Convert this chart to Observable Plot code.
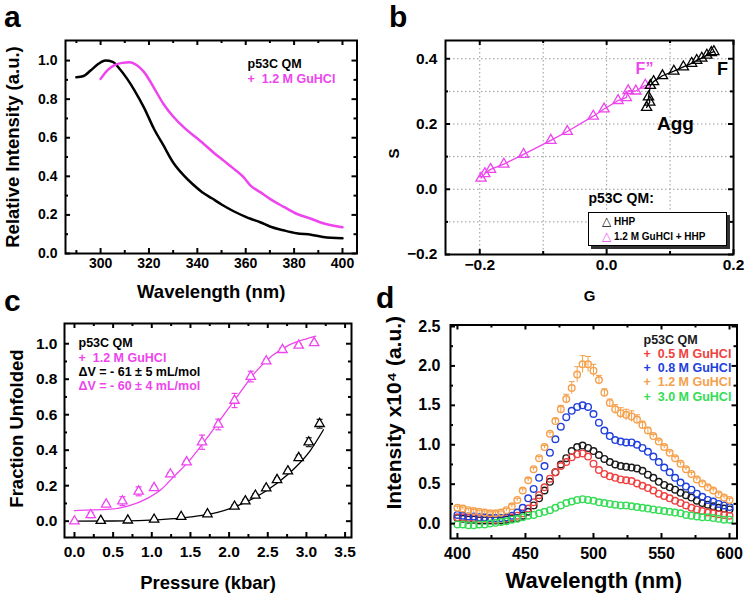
<!DOCTYPE html>
<html><head><meta charset="utf-8">
<script src="https://cdn.jsdelivr.net/npm/d3@7"></script>
<script src="https://cdn.jsdelivr.net/npm/@observablehq/plot@0.6"></script>
<style>
body{margin:0;background:#fff;}
#root{position:relative;width:745px;height:597px;overflow:hidden;background:#fff;font-family:"Liberation Sans",Arial,Helvetica,sans-serif;}
.pane{position:absolute;}
.letter{position:absolute;font-size:30px;line-height:33px;font-weight:bold;color:#000;}
.lgbox{position:absolute;border:1px solid #000;box-shadow:3px 3px 0 #333;background:#fff;font-size:10px;font-weight:bold;}
.lgrow{position:absolute;white-space:nowrap;line-height:12px;}
</style></head><body><div id="root"></div>
<script>
// ---------- Panel a : emission spectra ----------
const aQmWl = [290, 293, 296, 299, 302, 305, 308, 311, 314, 318, 322, 326, 330, 334, 338, 342, 346, 350, 355, 360, 362, 366, 370, 376, 381, 387, 392, 400];
const aQmI  = [0.913, 0.92, 0.95, 0.982, 1.0, 0.993, 0.955, 0.905, 0.846, 0.755, 0.648, 0.56, 0.472, 0.41, 0.36, 0.318, 0.286, 0.254, 0.219, 0.19, 0.18, 0.162, 0.14, 0.119, 0.105, 0.097, 0.086, 0.079];
const aGuWl = [300, 303, 306, 309, 312, 315, 318, 322, 326, 330, 335, 339, 343, 347, 351, 355, 359, 362, 366, 370, 376, 381, 387, 392, 400];
const aGuI  = [0.905, 0.952, 0.978, 0.988, 0.991, 0.976, 0.94, 0.86, 0.775, 0.71, 0.647, 0.606, 0.564, 0.52, 0.48, 0.44, 0.397, 0.352, 0.318, 0.283, 0.24, 0.206, 0.18, 0.157, 0.136];

// ---------- Panel b : G / S phasor ----------
const bHhpG = [0.169, 0.165, 0.158, 0.150, 0.142, 0.134, 0.121, 0.106, 0.088, 0.074, 0.069, 0.066, 0.068, 0.063];
const bHhpS = [0.422, 0.419, 0.411, 0.402, 0.395, 0.386, 0.375, 0.362, 0.348, 0.330, 0.318, 0.283, 0.267, 0.251];
const bGuG  = [0.061, 0.046, 0.034, 0.031, 0.018, -0.004, -0.021, -0.062, -0.088, -0.131, -0.162, -0.183, -0.192, -0.198];
const bGuS  = [0.319, 0.301, 0.302, 0.281, 0.272, 0.246, 0.224, 0.177, 0.150, 0.107, 0.077, 0.061, 0.048, 0.034];

// ---------- Panel c : pressure unfolding ----------
const cGuP   = [0, 0.21, 0.41, 0.62, 0.83, 1.03, 1.24, 1.45, 1.65, 1.86, 2.07, 2.28, 2.48, 2.69, 2.90, 3.10];
const cGuF   = [0.0, 0.035, 0.095, 0.113, 0.168, 0.188, 0.265, 0.333, 0.445, 0.545, 0.68, 0.815, 0.902, 0.966, 0.99, 1.005];
const cGuErr = [0.005, 0.015, 0.01, 0.025, 0.025, 0.01, 0.01, 0.01, 0.04, 0.03, 0.04, 0.03, 0.01, 0.01, 0.01, 0.005];
const cQmP   = [0.34, 0.69, 1.03, 1.38, 1.72, 2.07, 2.21, 2.34, 2.48, 2.62, 2.76, 2.90, 3.03, 3.17];
const cQmF   = [0.003, 0.005, 0.01, 0.025, 0.04, 0.083, 0.113, 0.145, 0.186, 0.233, 0.282, 0.357, 0.445, 0.549];
const cQmErr = [0.005, 0.005, 0.005, 0.005, 0.005, 0.01, 0.01, 0.01, 0.01, 0.01, 0.01, 0.015, 0.025, 0.025];
const cGuFitP = [0, 0.43, 0.69, 0.95, 1.12, 1.30, 1.47, 1.69, 1.91, 2.13, 2.34, 2.56, 2.78, 3.00, 3.12];
const cGuFitF = [0.06, 0.066, 0.085, 0.13, 0.178, 0.258, 0.333, 0.455, 0.586, 0.718, 0.84, 0.934, 0.994, 1.028, 1.043];
const cQmFitP = [0, 0.5, 1.11, 1.54, 1.85, 2.10, 2.36, 2.62, 2.84, 3.05, 3.22];
const cQmFitF = [0, 0.001, 0.009, 0.026, 0.05, 0.085, 0.139, 0.214, 0.295, 0.398, 0.515];

// ---------- Panel d : spectra vs GuHCl ----------
const dWl = [400,404,408,412,416,420,424,428,432,436,440,444,448,452,456,460,464,468,472,476,480,484,488,492,496,500,504,508,512,516,520,524,528,532,536,540,544,548,552,556,560,564,568,572,576,580,584,588,592,596,600];
const dQm  = [0.07,0.06,0.05,0.05,0.04,0.04,0.04,0.04,0.04,0.05,0.06,0.07,0.10,0.15,0.23,0.32,0.42,0.53,0.65,0.75,0.83,0.92,0.97,0.99,0.96,0.92,0.87,0.82,0.78,0.75,0.73,0.72,0.71,0.70,0.67,0.62,0.58,0.53,0.49,0.46,0.43,0.39,0.36,0.33,0.29,0.26,0.24,0.22,0.20,0.19,0.18];
const d05  = [0.08,0.08,0.07,0.07,0.06,0.06,0.06,0.05,0.06,0.07,0.08,0.10,0.13,0.19,0.27,0.36,0.46,0.57,0.65,0.73,0.78,0.84,0.88,0.89,0.85,0.76,0.68,0.63,0.60,0.58,0.56,0.55,0.54,0.51,0.48,0.45,0.42,0.38,0.35,0.32,0.29,0.26,0.23,0.20,0.18,0.16,0.14,0.13,0.12,0.11,0.10];
const d08  = [0.11,0.10,0.09,0.09,0.08,0.08,0.07,0.07,0.07,0.08,0.10,0.14,0.20,0.32,0.44,0.58,0.73,0.90,1.07,1.23,1.35,1.43,1.48,1.50,1.48,1.39,1.28,1.18,1.11,1.06,1.04,1.03,1.03,1.00,0.96,0.91,0.85,0.78,0.71,0.65,0.58,0.52,0.47,0.43,0.38,0.34,0.30,0.28,0.25,0.23,0.21];
const d12  = [0.20,0.19,0.17,0.16,0.15,0.14,0.13,0.13,0.14,0.17,0.22,0.30,0.42,0.55,0.69,0.83,0.97,1.14,1.30,1.45,1.58,1.72,1.89,2.02,2.02,1.94,1.82,1.66,1.53,1.45,1.40,1.38,1.36,1.32,1.25,1.18,1.11,1.04,0.97,0.90,0.83,0.76,0.69,0.63,0.56,0.51,0.46,0.42,0.37,0.33,0.30];
const d12Err = [0.02,0.02,0.02,0.02,0.02,0.02,0.02,0.02,0.02,0.02,0.02,0.02,0.02,0.02,0.02,0.02,0.02,0.02,0.03,0.05,0.06,0.08,0.10,0.11,0.10,0.08,0.06,0.05,0.05,0.06,0.07,0.07,0.07,0.06,0.05,0.04,0.02,0.02,0.02,0.02,0.02,0.02,0.02,0.02,0.02,0.02,0.02,0.02,0.02,0.02,0.02];
const d30  = [-0.01,-0.01,-0.02,-0.02,-0.01,-0.01,0.00,0.01,0.02,0.03,0.05,0.06,0.08,0.10,0.11,0.13,0.15,0.17,0.20,0.23,0.26,0.28,0.30,0.31,0.30,0.29,0.27,0.26,0.25,0.24,0.23,0.23,0.22,0.21,0.20,0.19,0.18,0.17,0.16,0.15,0.14,0.13,0.11,0.10,0.09,0.08,0.08,0.07,0.06,0.05,0.05];
const dNames  = ["p53C QM", "+\u00a0\u00a00.5 M GuHCl", "+\u00a0\u00a00.8 M GuHCl", "+\u00a0\u00a01.2 M GuHCl", "+\u00a0\u00a03.0 M GuHCl"];
const dColors = ["#1a1a1a", "#f04040", "#2040dd", "#f5a04c", "#33dd55"];
const dValues = [dQm, d05, d08, d12, d30];

// ---------- helpers ----------
const FONT = "'Liberation Sans', Arial, Helvetica, sans-serif";
const MAG = "#ee44ee";
const root = document.getElementById("root");
const zip = (xs, ys, extra) => xs.map((x, i) => ({x, y: ys[i], e: extra ? extra[i] : 0}));
const capSymbol = {draw(ctx) { ctx.moveTo(-3, 0); ctx.lineTo(3, 0); }};

// inward ticks on all four sides: short rules inset from the opposite frame edge
function inTicks(vals, side, len, W, H) {
  const o = {stroke: "#000", strokeWidth: 2};
  if (side === "bottom") return Plot.ruleX(vals, {...o, x: d => d, insetTop: H - len});
  if (side === "top") return Plot.ruleX(vals, {...o, x: d => d, insetBottom: H - len});
  if (side === "left") return Plot.ruleY(vals, {...o, y: d => d, insetRight: W - len});
  return Plot.ruleY(vals, {...o, y: d => d, insetLeft: W - len});
}
function boxTicks({xMajor, xMinor, yMajor, yMinor, W, H}) {
  const t = (v, s, l) => inTicks(v, s, l, W, H);
  return [
    t(xMajor, "bottom", 5), t(xMinor, "bottom", 3), t(xMajor, "top", 5), t(xMinor, "top", 3),
    t(yMajor, "left", 5), t(yMinor, "left", 3), t(yMajor, "right", 5), t(yMinor, "right", 3),
    Plot.frame({stroke: "#000", strokeWidth: 2})
  ];
}
function note(t, o) {
  return Plot.text([t], {text: d => d, fontWeight: "bold", frameAnchor: "top-left", textAnchor: "start", lineAnchor: "middle", ...o});
}
function title(t, o) {
  return Plot.text([t], {text: d => d, fontWeight: "bold", textAnchor: "middle", lineAnchor: "middle", fill: "black", ...o});
}
function mount(svg, left, top) {
  const div = document.createElement("div");
  div.className = "pane";
  div.style.left = left + "px";
  div.style.top = top + "px";
  div.appendChild(svg);
  root.appendChild(div);
}
const style = fs => ({fontFamily: FONT, fontSize: fs + "px", fontWeight: "bold", background: "transparent", overflow: "visible", color: "black"});
const axisOpts = (domain, ticks, fmt, pad) => ({domain, ticks, tickFormat: fmt, tickSize: 0, tickPadding: pad, label: null});

// ---------- Panel a ----------
const aT = {xMajor: [300, 320, 340, 360, 380, 400], xMinor: [290, 310, 330, 350, 370, 390],
  yMajor: [0, 0.2, 0.4, 0.6, 0.8, 1.0], yMinor: [0.1, 0.3, 0.5, 0.7, 0.9], W: 291.5, H: 213};
mount(Plot.plot({
  width: 372, height: 300, marginLeft: 65, marginRight: 15.5, marginTop: 40, marginBottom: 47,
  style: style(14),
  x: axisOpts([285.5, 406], aT.xMajor, "d", 5),
  y: axisOpts([0, 1.104], aT.yMajor, ".1f", 8),
  marks: [
    Plot.line(zip(aQmWl, aQmI), {x: "x", y: "y", stroke: "black", strokeWidth: 2.5, curve: "monotone-x"}),
    Plot.line(zip(aGuWl, aGuI), {x: "x", y: "y", stroke: MAG, strokeWidth: 2.5, curve: "monotone-x"}),
    ...boxTicks(aT),
    note("p53C QM", {dx: 182, dy: 23, fontSize: 12.5, fill: "black"}),
    note("+\u00a0\u00a01.2 M GuHCl", {dx: 182, dy: 38, fontSize: 12.5, fill: MAG}),
    title("Wavelength (nm)", {frameAnchor: "bottom", dy: 39, fontSize: 18.5}),
    title("Relative Intensity (a.u.)", {frameAnchor: "left", dx: -52, rotate: -90, fontSize: 18.5})
  ]
}), 0, 0);

// ---------- Panel b ----------
const bT = {xMajor: [-0.2, 0, 0.2], xMinor: [-0.1, 0.1], yMajor: [-0.2, 0, 0.2, 0.4], yMinor: [-0.1, 0.1, 0.3], W: 288, H: 214};
mount(Plot.plot({
  width: 373, height: 300, marginLeft: 73, marginRight: 12, marginTop: 40, marginBottom: 46,
  style: style(15.5),
  x: axisOpts([-0.254, 0.2], bT.xMajor, ".1f", 4),
  y: axisOpts([-0.2, 0.456], bT.yMajor, ".1f", 8),
  marks: [
    Plot.ruleX([-0.2, -0.1, 0, 0.1], {x: d => d, stroke: "#999", strokeDasharray: "1.5,2.5"}),
    Plot.ruleY([-0.1, 0, 0.1, 0.2, 0.3, 0.4], {y: d => d, stroke: "#999", strokeDasharray: "1.5,2.5"}),
    Plot.line(zip(bGuG, bGuS), {x: "x", y: "y", stroke: MAG, strokeWidth: 1.3}),
    Plot.line(zip(bHhpG, bHhpS), {x: "x", y: "y", stroke: "black", strokeWidth: 1.3}),
    Plot.dot(zip(bGuG, bGuS), {x: "x", y: "y", symbol: "triangle", r: 3.8, stroke: MAG, strokeWidth: 1.3, fill: "none"}),
    Plot.dot(zip(bHhpG, bHhpS), {x: "x", y: "y", symbol: "triangle", r: 3.8, stroke: "black", strokeWidth: 1.3, fill: "none"}),
    ...boxTicks(bT),
    note("F\u201D", {dx: 199, dy: 28, fontSize: 16, fill: MAG, textAnchor: "middle"}),
    note("F", {dx: 277, dy: 29, fontSize: 18, fill: "black", textAnchor: "middle"}),
    note("Agg", {dx: 230, dy: 83, fontSize: 19, fill: "black", textAnchor: "middle"}),
    note("p53C QM:", {dx: 143, dy: 158, fontSize: 14, fill: "black"}),
    title("G", {frameAnchor: "bottom", dy: 42, fontSize: 15}),
    title("S", {frameAnchor: "left", dx: -51, dy: 6, rotate: -90, fontSize: 15})
  ]
}), 372, 0);

// ---------- Panel c ----------
const cGu = zip(cGuP, cGuF, cGuErr);
const cQm = zip(cQmP, cQmF, cQmErr);
const cT = {xMajor: [0, 0.5, 1, 1.5, 2, 2.5, 3, 3.5], xMinor: [0.25, 0.75, 1.25, 1.75, 2.25, 2.75, 3.25],
  yMajor: [0, 0.2, 0.4, 0.6, 0.8, 1.0], yMinor: [0.1, 0.3, 0.5, 0.7, 0.9], W: 287, H: 214};
mount(Plot.plot({
  width: 372, height: 297, marginLeft: 64, marginRight: 21, marginTop: 23, marginBottom: 60,
  style: style(15.5),
  x: axisOpts([-0.129, 3.583], cT.xMajor, ".1f", 8),
  y: axisOpts([-0.092, 1.114], cT.yMajor, ".1f", 7),
  marks: [
    Plot.line(zip(cGuFitP, cGuFitF), {x: "x", y: "y", stroke: MAG, strokeWidth: 1.3, curve: "monotone-x"}),
    Plot.line(zip(cQmFitP, cQmFitF), {x: "x", y: "y", stroke: "black", strokeWidth: 1.3, curve: "monotone-x"}),
    Plot.ruleX(cGu, {x: "x", y1: d => d.y - d.e, y2: d => d.y + d.e, stroke: MAG, strokeWidth: 1}),
    Plot.dot(cGu, {x: "x", y: d => d.y + d.e, symbol: capSymbol, stroke: MAG, strokeWidth: 1.2}),
    Plot.dot(cGu, {x: "x", y: d => d.y - d.e, symbol: capSymbol, stroke: MAG, strokeWidth: 1.2}),
    Plot.ruleX(cQm, {x: "x", y1: d => d.y - d.e, y2: d => d.y + d.e, stroke: "#222", strokeWidth: 1}),
    Plot.dot(cQm, {x: "x", y: d => d.y + d.e, symbol: capSymbol, stroke: "#222", strokeWidth: 1.2}),
    Plot.dot(cQm, {x: "x", y: d => d.y - d.e, symbol: capSymbol, stroke: "#222", strokeWidth: 1.2}),
    Plot.dot(cGu, {x: "x", y: "y", symbol: "triangle", r: 3.5, stroke: MAG, strokeWidth: 1.3, fill: "white"}),
    Plot.dot(cQm, {x: "x", y: "y", symbol: "triangle", r: 3.5, stroke: "black", strokeWidth: 1.3, fill: "white"}),
    ...boxTicks(cT),
    note("p53C QM", {dx: 14, dy: 19, fontSize: 12.5, fill: "black"}),
    note("+\u00a0\u00a01.2 M GuHCl", {dx: 14, dy: 34, fontSize: 12.5, fill: MAG}),
    note("\u0394V = - 61 \u00b1 5 mL/mol", {dx: 14, dy: 48, fontSize: 12.5, fill: "black"}),
    note("\u0394V = - 60 \u00b1 4 mL/mol", {dx: 14, dy: 62, fontSize: 12.5, fill: MAG}),
    title("Pressure (kbar)", {frameAnchor: "bottom", dy: 46, fontSize: 18.5}),
    title("Fraction Unfolded", {frameAnchor: "left", dx: -47, dy: -2, rotate: -90, fontSize: 18.5})
  ]
}), 0, 300);

// ---------- Panel d ----------
const dMarks = [];
dValues.forEach((vals, k) => {
  const rows = zip(dWl, vals, k === 3 ? d12Err : null);
  if (k === 3) {
    dMarks.push(Plot.ruleX(rows, {x: "x", y1: d => d.y - d.e, y2: d => d.y + d.e, stroke: dColors[k], strokeWidth: 1}));
    dMarks.push(Plot.dot(rows, {x: "x", y: d => d.y + d.e, symbol: capSymbol, stroke: dColors[k], strokeWidth: 1}));
  }
  dMarks.push(Plot.dot(rows, {x: "x", y: "y", r: 3.3, stroke: dColors[k], strokeWidth: 1.4, fill: "none"}));
});
const dT = {xMajor: [400, 450, 500, 550, 600], xMinor: [425, 475, 525, 575],
  yMajor: [0, 0.5, 1, 1.5, 2, 2.5], yMinor: [0.25, 0.75, 1.25, 1.75, 2.25], W: 286.5, H: 213.5};
mount(Plot.plot({
  width: 373, height: 297, marginLeft: 78, marginRight: 8.5, marginTop: 24.5, marginBottom: 59,
  style: style(16),
  x: axisOpts([394.9, 605.5], dT.xMajor, "d", 9),
  y: axisOpts([-0.189, 2.519], dT.yMajor, ".1f", 10),
  marks: [
    ...dMarks,
    ...boxTicks(dT),
    ...dNames.map((n, k) => note(n, {dx: 193, dy: 14.5 + 14.3 * k, fontSize: 12.5, fill: dColors[k]})),
    title("Wavelength (nm)", {frameAnchor: "bottom", dy: 42, fontSize: 22}),
    title("Intensity x10\u2074 (a.u.)", {frameAnchor: "left", dx: -56, dy: -19, rotate: -90, fontSize: 21})
  ]
}), 372, 300);

// ---------- panel letters and panel-b legend box ----------
[["a", 4, 0], ["b", 389, 0], ["c", 4, 284], ["d", 376, 281]].forEach(([t, l, tp]) => {
  const el = document.createElement("div");
  el.className = "letter";
  el.textContent = t;
  el.style.left = l + "px";
  el.style.top = tp + "px";
  root.appendChild(el);
});
const lg = document.createElement("div");
lg.className = "lgbox";
Object.assign(lg.style, {left: "588px", top: "212px", width: "137px", height: "32px"});
const lgItems = [["HHP", "#000", 2], ["1.2 M GuHCl + HHP", MAG, 17]];
lgItems.forEach(([t, c, y]) => {
  const row = document.createElement("div");
  row.className = "lgrow";
  row.style.left = "13px";
  row.style.top = y + "px";
  const tri = document.createElement("span");
  tri.textContent = "\u25B3";
  tri.style.color = c;
  tri.style.fontSize = "12px";
  tri.style.fontFamily = "'DejaVu Sans', sans-serif";
  const lab = document.createElement("span");
  lab.textContent = " " + t;
  lab.style.color = "#000";
  row.appendChild(tri);
  row.appendChild(lab);
  lg.appendChild(row);
});
root.appendChild(lg);
</script></body></html>
